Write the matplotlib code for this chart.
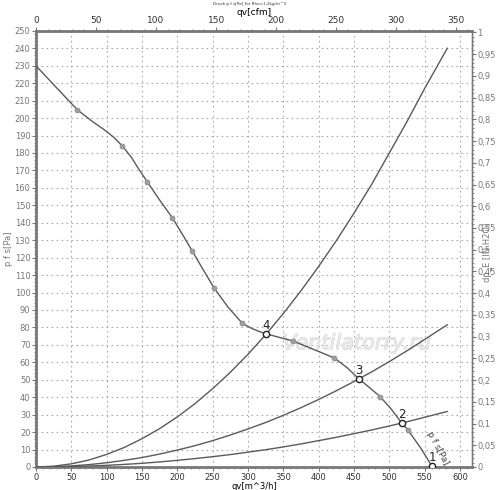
import matplotlib
matplotlib.use("Agg")
import matplotlib.pyplot as plt
import matplotlib.patheffects as pe
from matplotlib.ticker import MultipleLocator, FuncFormatter

# Fan curve p_fs [Pa] vs qv [m^3/h]
fan_q = [0, 30, 58.7, 80, 97, 110, 122, 135, 145, 157.6, 175, 193, 207, 221, 236, 252, 272, 292,
         305, 315, 326, 345, 364, 380, 400, 422, 440, 457, 472, 487, 502, 517.6, 526, 545, 561]
fan_p = [230, 217, 204.7, 198, 193.2, 189, 184.1, 177.5, 171, 163.4, 153, 142.8, 133.5, 123.9, 113.5, 102.6, 91.5, 82.3,
         79.5, 77.8, 76.3, 74.2, 72.2, 69.5, 66.2, 62.5, 57, 50.5, 45.5, 40.3, 33.5, 25.2, 21.4, 10.5, 0]
# measured (grey) points on fan curve
dot_q = [58.7, 122, 157.6, 193, 221, 252, 292, 364, 422, 487, 526]
dot_p = [204.7, 184.1, 163.4, 142.8, 123.9, 102.6, 82.3, 72.2, 62.5, 40.3, 21.4]
# operating points
op_q = [561, 517.6, 457, 326]
op_p = [0.5, 25.2, 50.5, 76.3]
op_lbl = ["1", "2", "3", "4"]
# system curves
sys_q = [0, 25, 50, 75, 100, 125, 150, 175, 200, 225, 250, 275, 300, 325, 350, 375, 400, 425, 450, 475, 500, 525, 550, 582]
sys_hi = [0, 0.45, 1.8, 4.0, 7.2, 11.2, 16.2, 22.0, 28.7, 36.3, 44.9, 54.3, 64.6, 75.8, 88, 101, 115, 129.7, 145.5, 162, 180, 198, 217, 240]
sys_mid = [0, 0.15, 0.6, 1.36, 2.4, 3.8, 5.4, 7.4, 9.7, 12.2, 15.1, 18.3, 21.8, 25.5, 29.6, 34, 38.7, 43.7, 49, 54.5, 60.4, 66.6, 73.1, 81.5]
sys_lo = [0, 0.06, 0.24, 0.53, 0.94, 1.47, 2.1, 2.9, 3.8, 4.8, 5.9, 7.1, 8.5, 9.9, 11.5, 13.2, 15.1, 17, 19.1, 21.2, 23.5, 25.9, 28.5, 31.8]

fig = plt.figure(figsize=(5.0, 4.9), dpi=100)
ax = fig.add_axes([0.072, 0.047, 0.872, 0.89])
ax.set_xlim(0, 617)
ax.set_ylim(0, 250)

lc = '#5a5a5a'
ax.plot(fan_q, fan_p, color=lc, lw=1.0, zorder=3)
ax.plot(sys_q, sys_hi, color=lc, lw=1.0, zorder=3)
ax.plot(sys_q, sys_mid, color=lc, lw=1.0, zorder=3)
ax.plot(sys_q, sys_lo, color=lc, lw=1.0, zorder=3)
ax.plot(dot_q, dot_p, 'o', ms=3.5, mfc='#a0a0a0', mec='#8a8a8a', mew=0.6, zorder=4)
ax.plot(op_q, op_p, 'o', ms=4.5, mfc='white', mec='#222222', mew=1.0, zorder=5)
for q, p, t in zip(op_q, op_p, op_lbl):
    ax.text(q, p + 1.2, t, fontsize=8.5, color='#222222', ha='center', va='bottom', zorder=6)

ax.text(556, 20, "p f s[Pa]", fontsize=6.5, color='#444444', rotation=-62,
        rotation_mode='anchor', ha='left', va='center', zorder=6, clip_on=False)

ax.text(454, 71, "Ventilatorry.ru", fontsize=15, style='italic', color='#e8e8e8',
        ha='center', va='center', zorder=2,
        path_effects=[pe.withStroke(linewidth=0.6, foreground='#cccccc'), pe.Normal()])

ax.grid(True, which='major', color='#aaaaaa', linestyle=(0, (1.5, 3)), lw=0.8)
ax.xaxis.set_major_locator(MultipleLocator(50))
ax.xaxis.set_minor_locator(MultipleLocator(10))
ax.yaxis.set_major_locator(MultipleLocator(10))
ax.yaxis.set_minor_locator(MultipleLocator(2))

for s in ax.spines.values():
    s.set_color('#777777')
ax.spines['bottom'].set_linewidth(2)
ax.spines['top'].set_linewidth(2)
ax.spines['left'].set_linewidth(2)
ax.spines['right'].set_linewidth(1)

ax.tick_params(axis='both', which='major', labelsize=6, length=3, color='#777777')
ax.tick_params(axis='both', which='minor', length=1.5, color='#777777')
ax.tick_params(axis='y', labelcolor='#777777', pad=1)
ax.tick_params(axis='x', labelcolor='#333333', pad=1.5)
ax.set_xlabel("qv[m^3/h]", fontsize=6, labelpad=0)
ax.set_ylabel("p f s[Pa]", fontsize=6, color='#777777')
ax.yaxis.set_label_coords(-0.052, 0.5)

top = ax.secondary_xaxis('top', functions=(lambda x: x / 1.699, lambda x: x * 1.699))
top.xaxis.set_major_locator(MultipleLocator(50))
top.xaxis.set_minor_locator(MultipleLocator(10))
top.tick_params(which='major', labelsize=6.5, length=3, color='#777777', labelcolor='#333333', pad=1)
top.tick_params(which='minor', length=1.5, color='#777777')
top.set_xlabel("qv[cfm]", fontsize=6.5, labelpad=1)

right = ax.secondary_yaxis('right', functions=(lambda y: y / 249.09, lambda y: y * 249.09))
right.yaxis.set_major_locator(MultipleLocator(0.05))
right.yaxis.set_minor_locator(MultipleLocator(0.01))
right.yaxis.set_major_formatter(FuncFormatter(lambda v, p: ("%g" % round(v, 2)).replace('.', ',')))
right.tick_params(which='major', labelsize=6, length=3, color='#777777', labelcolor='#777777', pad=1)
right.tick_params(which='minor', length=1.5, color='#777777')
fig.text(0.975, 0.485, "dp_E [IN H2O]", fontsize=6, color='#777777', rotation=90,
         ha='center', va='center')

fig.text(0.5, 0.995, "Druck p f s[Pa] für Rho=1,2kg/m^3", fontsize=3, ha='center', va='top', color='#333333')

fig.savefig("out.png", dpi=100)
